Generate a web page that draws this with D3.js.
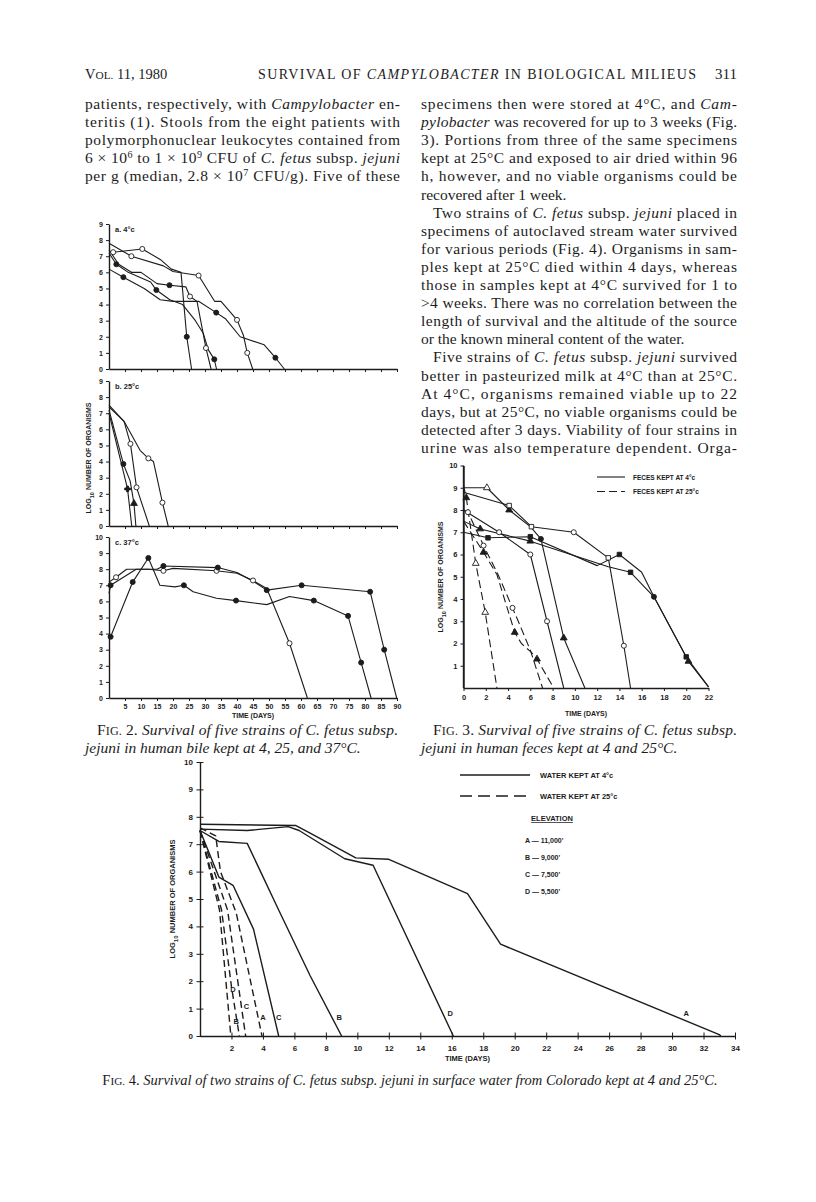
<!DOCTYPE html>
<html>
<head>
<meta charset="utf-8">
<script src="https://cdn.jsdelivr.net/npm/d3@7"></script>
<style>
  body { margin: 0; background: #fff; }
  svg { display: block; }
</style>
</head>
<body>
<svg id="page" width="816" height="1202"></svg>
<script>
// ---- data ----

// Fig. 2, survival in bile: each strain is a list of [day, log10 count, symbol]
// symbol codes: o open circle, d dot, s square, S open square, t triangle, T open triangle, + cross
var bileDayTicks = [5, 10, 15, 20, 25, 30, 35, 40, 45, 50, 55, 60, 65, 70, 75, 80, 85, 90];
var bile4 = [
    [[0,7.8,""],[7,7.0,"o"],[17,6.4,""],[20,6.05,""],[28,5.8,"o"],[33,4.2,""],[35,4.2,""],[40,3.05,"o"],[42,2.1,""],[43.2,1.0,"o"],[44.9,0,""]],
    [[0,7.3,""],[1.3,7.25,"o"],[10.4,7.45,"o"],[16,6.8,""],[19.5,6.2,""],[22.5,6.0,""],[24.3,2.0,"d"],[25.8,0,""]],
    [[0,7.4,""],[3,6.5,""],[7,6.0,""],[10,6.0,""],[15,5.3,""],[18.9,5.2,"d"],[24,5.1,""],[25.3,4.5,"o"],[27.5,4.2,""],[30.3,1.3,"o"],[31.9,0,""]],
    [[0,7.2,""],[2.3,6.5,"d"],[6,6.0,""],[13,5.4,""],[14.8,4.9,"d"],[19,4.3,""],[23,4.0,""],[27,3.0,""],[29.5,2.2,""],[31,1.2,""],[32.9,0.6,"d"],[33.6,0,""]],
    [[0,6.2,""],[4.5,5.7,"d"],[11,5.0,""],[16,4.3,""],[20,4.2,""],[28,4.2,""],[33.5,3.5,"d"],[36.5,3.1,""],[41,2.0,""],[48.5,1.5,""],[52,0.7,"d"],[54.8,0,""]]
];
var bile25 = [
    [[0,7.5,""],[4.7,6.5,""],[9.7,4.7,""],[12.3,4.2,"o"],[13.9,4.0,""],[16.7,1.45,"o"],[18.5,0,""]],
    [[0,7.4,""],[4.7,6.5,""],[6.7,5.1,"o"],[8.6,2.4,"o"],[12.6,0,""]],
    [[0,7.2,""],[4.5,3.85,"d"],[6.6,2.8,""],[7.8,1.4,"t"],[8.4,0,""]],
    [[0,7.0,""],[5.8,2.3,"+"],[7.1,0,""]]
];
var bile37 = [
    [[0,3.7,""],[0.5,3.8,"d"],[7.4,7.2,"d"],[12.3,8.7,"d"],[15.9,7.0,""],[20.6,6.9,""],[23.4,7.0,"d"],[26.3,6.6,""],[33.6,6.2,""],[39.7,6.05,"d"],[49.3,5.8,""],[56.4,6.3,""],[64,6.05,"d"],[74.7,5.1,"d"],[78.8,2.2,"d"],[81.9,0,""]],
    [[0,7.2,""],[2.2,7.5,"o"],[5.5,8.0,""],[12.3,8.0,""],[17,7.9,"o"],[20,8.05,""],[33.6,7.9,"o"],[40,7.75,""],[45,7.3,"o"],[49.3,6.8,""],[56.4,3.4,"o"],[62,0,""]],
    [[0,6.5,""],[0.5,7.0,"d"],[8.5,8.0,""],[15,8.0,""],[17,8.2,"d"],[34,8.1,"d"],[40,7.8,""],[45,7.25,""],[49.3,6.7,"d"],[60.2,7.0,"d"],[81.6,6.6,"d"],[86,3.0,"d"],[89.9,0,""]]
];
var bileTicks9 = [0, 1, 2, 3, 4, 5, 6, 7, 8, 9];
var bileTicks10 = [0, 1, 2, 3, 4, 5, 6, 7, 8, 9, 10];
var bilePanels = ["a. 4°c", "b. 25°c", "c. 37°c"];

// Fig. 3, survival in feces
var fecesDayTicks = [0, 2, 4, 6, 8, 10, 12, 14, 16, 18, 20, 22];
var fecesLogTicks = [1, 2, 3, 4, 5, 6, 7, 8, 9, 10];
var feces4 = [
    [[0,8.0,""],[3.2,7.0,"o"],[6.0,6.0,"o"],[7.5,3.0,"o"],[9.0,0,""]],
    [[0,9.0,""],[2.1,9.0,"T"],[4.1,8.0,"t"],[6.0,7.25,""],[6.95,6.7,"d"],[9.0,2.25,"t"],[10.9,0,""]],
    [[0,8.8,""],[4.1,8.2,"S"],[6.1,7.25,"S"],[9.9,7.0,"o"],[13.0,5.85,"S"],[14.4,1.9,"o"],[15.0,0,""]],
    [[0,7.0,""],[2.2,6.75,"s"],[6.0,6.8,"s"],[12.0,5.5,""],[14.0,6.0,"s"],[16.0,5.2,""],[17.1,4.1,"d"],[20.0,1.4,"s"],[22,0.05,""]],
    [[0,7.5,""],[1.5,7.15,"t"],[6.0,6.6,"t"],[13.0,5.45,""],[15.0,5.2,"s"],[17.1,4.1,""],[20.2,1.2,"t"],[22,0.05,""]]
];
var feces25 = [
    [[0,9.1,""],[0.25,8.55,"t"],[1.1,5.6,"T"],[1.95,3.4,"T"],[3.0,0,""]],
    [[0,8.0,""],[0.4,7.9,"o"],[1.8,6.4,"o"],[3.1,5.1,""],[4.4,3.6,"o"],[5.0,2.9,""],[6.0,1.7,""],[7.1,0,""]],
    [[0,7.5,""],[1.8,6.1,"t"],[3.0,5.1,""],[4.6,2.5,"t"],[5.2,2.0,""],[6.1,1.6,""],[6.6,1.3,"t"],[8.1,0,""]]
];
var fecesLegend = ["FECES KEPT AT 4°c", "FECES KEPT AT 25°c"];

// Fig. 4, survival in stream water; strains named by source elevation
var waterDayTicks = [2, 4, 6, 8, 10, 12, 14, 16, 18, 20, 22, 24, 26, 28, 30, 32, 34];
var waterLogTicks = [0, 1, 2, 3, 4, 5, 6, 7, 8, 9, 10];
var waterNames = ["A", "B", "C", "D"];
var water4 = [
    [[0,7.73],[6.1,7.68],[7.0,7.4],[9.9,6.5],[12.0,6.45],[17.0,5.2],[19.1,3.35],[33.0,0.05],[33.1,0]],
    [[0,7.5],[1.2,7.1],[3.0,7.03],[5.0,4.6],[7.0,2.2],[9.0,0]],
    [[0,7.5],[1.2,5.8],[2.1,5.5],[3.4,3.9],[5.0,0]],
    [[0,7.55],[3.0,7.5],[5.6,7.64],[6.3,7.5],[9.2,6.47],[11.0,6.23],[16.1,0]]
];
var water25 = [
    [[0,7.6],[1.0,7.3],[1.3,6.0],[2.3,4.5],[3.94,0]],
    [[0,7.5],[1.24,4.6],[1.96,0]],
    [[0,7.5],[1.75,4.6],[2.6,1.2],[2.9,0]],
    [[0,7.5],[1.37,4.6],[2.0,1.8],[2.5,0]]
];
// where the strain letters sit, [day, log10]
var water4LabelAt = [[30.9,0.85],[8.85,0.7],[5.0,0.7],[15.9,0.85]];
var water25LabelAt = [[4.0,0.7],[2.3,0.55],[2.95,1.1],[2.1,1.7]];
var waterLegend = ["WATER KEPT AT 4°c", "WATER KEPT AT 25°c"];
var elevations = ["A — 11,000'", "B — 9,000'", "C — 7,500'", "D — 5,500'"];

// running text; *italic*, ^superscript^, ~small caps~, leading ">" = indent, trailing "=" = no justify
var headerLeft = "V~OL.~ 11, 1980";
var headerMid = "SURVIVAL OF *CAMPYLOBACTER* IN BIOLOGICAL MILIEUS";
var headerPage = "311";
var leftText = [
    "patients, respectively, with *Campylobacter* en-",
    "teritis (1). Stools from the eight patients with",
    "polymorphonuclear leukocytes contained from",
    "6 × 10^6^ to 1 × 10^9^ CFU of *C. fetus* subsp. *jejuni*",
    "per g (median, 2.8 × 10^7^ CFU/g). Five of these"
];
var rightText = [
    "specimens then were stored at 4°C, and *Cam-*",
    "*pylobacter* was recovered for up to 3 weeks (Fig.",
    "3). Portions from three of the same specimens",
    "kept at 25°C and exposed to air dried within 96",
    "h, however, and no viable organisms could be",
    "recovered after 1 week.=",
    ">Two strains of *C. fetus* subsp. *jejuni* placed in",
    "specimens of autoclaved stream water survived",
    "for various periods (Fig. 4). Organisms in sam-",
    "ples kept at 25°C died within 4 days, whereas",
    "those in samples kept at 4°C survived for 1 to",
    "&gt;4 weeks. There was no correlation between the",
    "length of survival and the altitude of the source",
    "or the known mineral content of the water.=",
    ">Five strains of *C. fetus* subsp. *jejuni* survived",
    "better in pasteurized milk at 4°C than at 25°C.",
    "At 4°C, organisms remained viable up to 22",
    "days, but at 25°C, no viable organisms could be",
    "detected after 3 days. Viability of four strains in",
    "urine was also temperature dependent. Orga-"
];
var fig2Caption = [">F~IG.~ 2. *Survival of five strains of C. fetus subsp.*", "*jejuni in human bile kept at 4, 25, and 37°C.*="];
var fig3Caption = [">F~IG.~ 3. *Survival of five strains of C. fetus subsp.*", "*jejuni in human feces kept at 4 and 25°C.*="];
var fig4Caption = "F~IG.~ 4. *Survival of two strains of C. fetus subsp. jejuni in surface water from Colorado kept at 4 and 25°C.*";

// ---- drawing ----
var svg = d3.select("#page");
var INK = "#1c1c1c";
var SERIF = "'Liberation Serif', 'Times New Roman', serif";
var SANS = "'Liberation Sans', Arial, sans-serif";

svg.append("rect").attr("width", 816).attr("height", 1202).attr("fill", "#fff");

// writes a string with the little markup above into a text element
function rich(sel, str) {
    str.split(/(\*[^*]*\*|\^[^\^]*\^|~[^~]*~)/).forEach(function (p) {
        if (!p) return;
        var ts = sel.append("tspan");
        if (p[0] == "*") ts.attr("font-style", "italic").text(p.slice(1, -1));
        else if (p[0] == "^") ts.attr("baseline-shift", "super").attr("font-size", "65%").text(p.slice(1, -1));
        else if (p[0] == "~") ts.attr("font-size", "78%").text(p.slice(1, -1));
        else ts.text(p);
    });
}

function textBlock(x, y0, lines, width) {
    lines.forEach(function (ln, i) {
        var indent = ln[0] == ">";
        var last = ln[ln.length - 1] == "=";
        var s = ln.replace(/^>/, "").replace(/=$/, "").replace("&gt;", ">");
        var t = svg.append("text")
            .attr("x", x + (indent ? 12 : 0))
            .attr("y", y0 + i * 18.1)
            .attr("font-family", SERIF)
            .attr("font-size", 15.5)
            .attr("fill", INK);
        rich(t, s);
        if (!last) t.attr("textLength", width - (indent ? 12 : 0)).attr("lengthAdjust", "spacing");
    });
}

// header
var h1 = svg.append("text").attr("x", 85).attr("y", 79).attr("font-family", SERIF).attr("font-size", 14.5).attr("fill", INK);
rich(h1, headerLeft);
var h2 = svg.append("text").attr("x", 258).attr("y", 79).attr("font-family", SERIF).attr("font-size", 14).attr("fill", INK)
    .attr("textLength", 438).attr("lengthAdjust", "spacing");
rich(h2, headerMid);
svg.append("text").attr("x", 737).attr("y", 79).attr("text-anchor", "end").attr("font-family", SERIF)
    .attr("font-size", 15).attr("fill", INK).text(headerPage);

textBlock(85, 109, leftText, 315);
textBlock(421, 109, rightText, 316);
textBlock(85, 735, fig2Caption, 313);
textBlock(421, 735, fig3Caption, 316);
var c4 = svg.append("text").attr("x", 410).attr("y", 1085).attr("text-anchor", "middle")
    .attr("font-family", SERIF).attr("font-size", 14.5).attr("fill", INK);
rich(c4, fig4Caption);

// chart helpers
function styleAxis(a, fs) {
    a.attr("font-family", null).attr("font-size", null);
    a.select(".domain").attr("stroke", INK).attr("stroke-width", 1.4);
    a.selectAll(".tick line").attr("stroke", INK).attr("stroke-width", 1);
    a.selectAll(".tick text").attr("font-family", SANS).attr("font-weight", "bold")
        .attr("font-size", fs || 7.5).attr("fill", INK);
}

function marker(g, x, y, pts, r) {
    var syms = { o: d3.symbolCircle, d: d3.symbolCircle, s: d3.symbolSquare, S: d3.symbolSquare,
                 t: d3.symbolTriangle, T: d3.symbolTriangle, "+": d3.symbolCross };
    g.selectAll(null)
        .data(pts.filter(function (d) { return d[2]; }))
        .enter().append("path")
        .attr("transform", function (d) { return "translate(" + x(d[0]) + "," + y(d[1]) + ")"; })
        .attr("d", function (d) { return d3.symbol().type(syms[d[2]]).size(d[2] == "+" ? 18 : (r || 20))(); })
        .attr("fill", function (d) { return "oST".indexOf(d[2]) >= 0 ? "#fff" : INK; })
        .attr("stroke", INK)
        .attr("stroke-width", 0.9);
}

function series(g, x, y, list, dash, sw) {
    var line = d3.line().x(function (d) { return x(d[0]); }).y(function (d) { return y(d[1]); });
    list.forEach(function (pts) {
        g.append("path").datum(pts).attr("d", line)
            .attr("fill", "none").attr("stroke", INK).attr("stroke-width", sw || 1.1)
            .attr("stroke-linejoin", "round")
            .attr("stroke-dasharray", dash || null);
    });
    list.forEach(function (pts) { marker(g, x, y, pts); });
}

function yTitle(g, x, y, fs) {
    var t = g.append("text").attr("transform", "translate(" + x + "," + y + ") rotate(-90)")
        .attr("text-anchor", "middle").attr("font-family", SANS).attr("font-weight", "bold")
        .attr("font-size", fs).attr("fill", INK);
    t.append("tspan").text("LOG");
    t.append("tspan").attr("baseline-shift", "sub").attr("font-size", "80%").text("10");
    t.append("tspan").text(" NUMBER OF ORGANISMS");
}

// ---- Fig. 2 ----
var fig2 = svg.append("g");
var bileX = d3.scaleLinear().domain([0, 90]).range([109, 397]);
var bilePanelsY = [
    d3.scaleLinear().domain([0, 9]).range([369, 224]),
    d3.scaleLinear().domain([0, 9]).range([526, 381]),
    d3.scaleLinear().domain([0, 10]).range([698, 537])
];
[bile4, bile25, bile37].forEach(function (data, i) {
    var y = bilePanelsY[i];
    var ax = d3.axisBottom(bileX).tickValues(bileDayTicks).tickSizeInner(3).tickSizeOuter(0).tickPadding(3);
    if (i < 2) ax.tickFormat("");
    styleAxis(fig2.append("g").attr("transform", "translate(0," + y(0) + ")").call(ax), 7);
    styleAxis(fig2.append("g").attr("transform", "translate(" + bileX(0) + ",0)")
        .call(d3.axisLeft(y).tickValues(i < 2 ? bileTicks9 : bileTicks10).tickSizeInner(3).tickSizeOuter(0).tickPadding(3)), 7);
    series(fig2, bileX, y, data);
    fig2.append("text").attr("x", bileX(0) + 6).attr("y", y.range()[1] + 8)
        .attr("font-family", SANS).attr("font-weight", "bold").attr("font-size", 7.5).attr("fill", INK)
        .text(bilePanels[i]);
});
fig2.append("text").attr("x", (bileX.range()[0] + bileX.range()[1]) / 2).attr("y", 718)
    .attr("text-anchor", "middle").attr("font-family", SANS).attr("font-weight", "bold")
    .attr("font-size", 7).attr("fill", INK).text("TIME (DAYS)");
yTitle(fig2, 91, 458, 7);

// ---- Fig. 3 ----
var fig3 = svg.append("g");
var fecesX = d3.scaleLinear().domain([0, 22]).range([463.5, 708.5]);
var fecesY = d3.scaleLinear().domain([0, 10]).range([688, 465.5]);
styleAxis(fig3.append("g").attr("transform", "translate(0," + fecesY(0) + ")")
    .call(d3.axisBottom(fecesX).tickValues(fecesDayTicks).tickSizeInner(3).tickSizeOuter(0).tickPadding(4)), 7.5);
styleAxis(fig3.append("g").attr("transform", "translate(" + fecesX(0) + ",0)")
    .call(d3.axisLeft(fecesY).tickValues(fecesLogTicks).tickSizeInner(3).tickSizeOuter(0).tickPadding(3)), 7.5);
fig3.append("line").attr("x1", fecesX(0)).attr("x2", fecesX(0)).attr("y1", fecesY(10)).attr("y2", fecesY(0))
    .attr("stroke", INK).attr("stroke-width", 1.4);
series(fig3, fecesX, fecesY, feces4);
series(fig3, fecesX, fecesY, feces25, "8,4");
fig3.append("text").attr("x", 586).attr("y", 716).attr("text-anchor", "middle").attr("font-family", SANS)
    .attr("font-weight", "bold").attr("font-size", 7).attr("fill", INK).text("TIME (DAYS)");
yTitle(fig3, 443, 577, 7);
fecesLegend.forEach(function (d, i) {
    var ly = 477 + i * 14.5;
    fig3.append("line").attr("x1", 597).attr("x2", 625).attr("y1", ly).attr("y2", ly)
        .attr("stroke", INK).attr("stroke-width", 1.1).attr("stroke-dasharray", i ? "8,4" : null);
    fig3.append("text").attr("x", 633).attr("y", ly + 2.5).attr("font-family", SANS).attr("font-weight", "bold")
        .attr("font-size", 6.5).attr("fill", INK).text(d);
});

// ---- Fig. 4 ----
var fig4 = svg.append("g");
var waterX = d3.scaleLinear().domain([0, 34]).range([200, 735]);
var waterY = d3.scaleLinear().domain([0, 10]).range([1036, 762]);
var wx = fig4.append("g").attr("transform", "translate(0," + waterY(0) + ")")
    .call(d3.axisBottom(waterX).tickValues(waterDayTicks).tickSizeInner(7).tickSizeOuter(0).tickPadding(2));
styleAxis(wx, 8);
wx.selectAll(".tick line").attr("y1", -3.5).attr("y2", 3.5);
var wy = fig4.append("g").attr("transform", "translate(" + waterX(0) + ",0)")
    .call(d3.axisLeft(waterY).tickValues(waterLogTicks).tickSizeInner(7).tickSizeOuter(0).tickPadding(4));
styleAxis(wy, 8);
wy.selectAll(".tick line").attr("x1", -3.5).attr("x2", 3.5);
wy.selectAll(".tick text").attr("x", -7);
series(fig4, waterX, waterY, water4, null, 1.4);
series(fig4, waterX, waterY, water25, "7,4", 1.4);
function letters(pos) {
    fig4.selectAll(null).data(pos).enter().append("text")
        .attr("x", function (d) { return waterX(d[0]); })
        .attr("y", function (d) { return waterY(d[1]) + 3; })
        .attr("text-anchor", "middle").attr("font-family", SANS).attr("font-weight", "bold")
        .attr("font-size", 7.5).attr("fill", INK)
        .text(function (d, i) { return waterNames[i]; });
}
letters(water4LabelAt);
letters(water25LabelAt);
fig4.append("text").attr("x", (waterX.range()[0] + waterX.range()[1]) / 2).attr("y", 1061)
    .attr("text-anchor", "middle").attr("font-family", SANS).attr("font-weight", "bold")
    .attr("font-size", 7.5).attr("fill", INK).text("TIME (DAYS)");
yTitle(fig4, 175, 899, 7.5);
waterLegend.forEach(function (d, i) {
    var ly = 775 + i * 21;
    fig4.append("line").attr("x1", 460).attr("x2", 530).attr("y1", ly).attr("y2", ly)
        .attr("stroke", INK).attr("stroke-width", 1.4).attr("stroke-dasharray", i ? "12,6" : null);
    fig4.append("text").attr("x", 540).attr("y", ly + 3).attr("font-family", SANS).attr("font-weight", "bold")
        .attr("font-size", 7.5).attr("fill", INK).text(d);
});
fig4.append("text").attr("x", 552).attr("y", 821).attr("text-anchor", "middle").attr("font-family", SANS)
    .attr("font-weight", "bold").attr("font-size", 7.5).attr("fill", INK)
    .attr("text-decoration", "underline").text("ELEVATION");
elevations.forEach(function (d, i) {
    fig4.append("text").attr("x", 525).attr("y", 843 + i * 17).attr("font-family", SANS)
        .attr("font-weight", "bold").attr("font-size", 7).attr("fill", INK).text(d);
});
</script>
</body>
</html>
